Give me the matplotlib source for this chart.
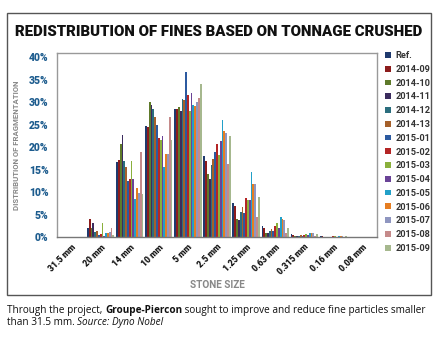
import matplotlib
matplotlib.use("Agg")
import matplotlib.pyplot as plt
from matplotlib.patches import Rectangle
import numpy as np

# stone sizes (x categories)
sizes = ["31.5 mm", "20 mm", "14 mm", "10 mm", "5 mm", "2.5 mm",
         "1.25 mm", "0.63 mm", "0.315 mm", "0.16 mm", "0.08 mm"]

# % passing per size, one list per blast campaign
ref     = [0, 2.1, 16.6, 24.7, 28.4, 18.0, 7.6, 2.4, 0.7, 0.15, 0.05]
s201409 = [0, 4.0, 17.1, 24.4, 28.5, 17.0, 6.8, 2.1, 0.5, 0.15, 0.05]
s201410 = [0, 2.0, 20.7, 29.9, 28.8, 14.0, 4.1, 0.8, 0.3, 0.10, 0.05]
s201411 = [0, 3.1, 22.6, 29.3, 28.1, 13.0, 3.8, 0.8, 0.2, 0.10, 0.05]
s201412 = [0, 1.1, 16.8, 28.5, 30.7, 16.0, 5.6, 1.3, 0.3, 0.10, 0.05]
s201413 = [0, 1.4, 15.5, 26.7, 30.5, 17.3, 6.7, 1.8, 0.4, 0.10, 0.05]
s201501 = [0, 0.5, 12.4, 24.9, 36.7, 19.0, 5.3, 1.3, 0.3, 0.10, 0.05]
s201502 = [0, 0.7, 13.0, 21.9, 31.6, 20.7, 8.6, 2.5, 0.5, 0.15, 0.05]
s201503 = [0, 3.1, 16.8, 21.5, 27.9, 18.2, 8.3, 3.2, 0.7, 0.20, 0.05]
s201504 = [0, 0.3, 13.0, 22.4, 32.0, 21.3, 8.3, 2.0, 0.4, 0.10, 0.05]
s201505 = [0, 0.9, 8.5, 15.5, 29.3, 26.0, 14.4, 4.4, 0.9, 0.20, 0.05]
s201506 = [0, 1.0, 11.0, 18.4, 29.2, 23.6, 11.8, 4.0, 0.8, 0.20, 0.05]
s201507 = [0, 1.1, 9.8, 18.4, 30.0, 23.2, 11.8, 3.7, 0.9, 0.20, 0.05]
s201508 = [0, 2.1, 18.8, 26.7, 31.0, 16.3, 4.5, 0.9, 0.3, 0.10, 0.05]
s201509 = [0, 0.5, 9.5, 21.5, 33.9, 22.5, 8.9, 2.1, 0.6, 0.15, 0.05]

labels = ["Ref.", "2014-09", "2014-10", "2014-11", "2014-12", "2014-13",
          "2015-01", "2015-02", "2015-03", "2015-04", "2015-05", "2015-06",
          "2015-07", "2015-08", "2015-09"]
series = [ref, s201409, s201410, s201411, s201412, s201413, s201501, s201502,
          s201503, s201504, s201505, s201506, s201507, s201508, s201509]
colors = ["#1F3A6E", "#8C1C1C", "#5E7A2A", "#3B2C5E", "#2B6E7E", "#A5602A",
          "#2C5AA0", "#B42525", "#8AB03C", "#6A4397", "#22A0C8", "#E67E22",
          "#8F96C0", "#C58A8A", "#A6B88E"]

cond = ["Roboto", "DejaVu Sans"]

W, H = 441, 342
fig = plt.figure(figsize=(W / 100, H / 100), dpi=100)

# outer frame box
fig.patches.append(Rectangle((7 / W, 1 - 295 / H), 424 / W, 282 / H,
                             transform=fig.transFigure, fill=False,
                             edgecolor="#555555", lw=1.0))

fig.text(219 / W, 1 - 32 / H, "REDISTRIBUTION OF FINES BASED ON TONNAGE CRUSHED",
         ha="center", va="center", fontsize=10.8, fontweight="heavy",
         family=cond, color="#111111")

ax = fig.add_axes([57 / W, 1 - 237 / H, 320 / W, 184 / H])

x = np.arange(len(sizes))
n = len(series)
group_w = 0.94
bw = group_w / n
for i, (vals, lab, col) in enumerate(zip(series, labels, colors)):
    ax.bar(x - group_w / 2 + bw * (i + 0.5), np.array(vals) / 100.0, width=bw,
           color=col, label=lab, linewidth=0)

ax.set_xlim(-0.5, len(sizes) - 0.5)
ax.set_ylim(0, 0.409)
ax.set_yticks(np.arange(0, 0.41, 0.05))
ax.set_yticklabels(["%d%%" % v for v in range(0, 41, 5)], family=cond,
                   fontweight="heavy", fontsize=7.5, color="#1D5C8E")
ax.set_xticks(x)
ax.set_xticklabels(sizes, rotation=45, ha="right", rotation_mode="anchor",
                   family=cond, fontweight="heavy", fontsize=6.2, color="#111111")
ax.tick_params(axis="both", length=0)
ax.tick_params(axis="y", pad=6)
ax.tick_params(axis="x", pad=4)
for s in ax.spines.values():
    s.set_color("#999999")
    s.set_linewidth(1.0)
ax.spines["bottom"].set_color("#777777")

ax.set_ylabel("DISTRIBUTION OF FRAGMENTATION", family=cond, fontweight="bold",
              fontsize=5.6, color="#888888")
ax.yaxis.set_label_coords(-0.115, 0.5)
ax.set_xlabel("STONE SIZE", family=cond, fontweight="bold", fontsize=7.2,
              color="#888888")
ax.xaxis.set_label_coords(0.5, -0.235)

leg = ax.legend(loc="upper left", bbox_to_anchor=(1.015, 1.03), frameon=False,
                prop={"family": cond, "weight": "bold", "size": 6.6},
                handlelength=0.6, handleheight=0.6, handletextpad=0.5,
                labelspacing=0.52, borderaxespad=0)
for t in leg.get_texts():
    t.set_color("#333333")

# caption with mixed styles
renderer = fig.canvas.get_renderer()

def caption_line(parts, x0, y0):
    xx = x0
    for txt, kw in parts:
        t = fig.text(xx, y0, txt, ha="left", va="baseline", fontsize=7.2,
                     family=["Open Sans", "DejaVu Sans"], color="#111111", **kw)
        bb = t.get_window_extent(renderer=renderer)
        xx += bb.width / W

caption_line([("Through the project, ", {}),
              ("Groupe-Piercon", {"fontweight": "bold"}),
              (" sought to improve and reduce fine particles smaller", {})],
             7 / W, 1 - 313 / H)
caption_line([("than 31.5 mm. ", {}),
              ("Source: Dyno Nobel", {"style": "italic"})],
             7 / W, 1 - 325 / H)

fig.savefig("out.png", dpi=100)
